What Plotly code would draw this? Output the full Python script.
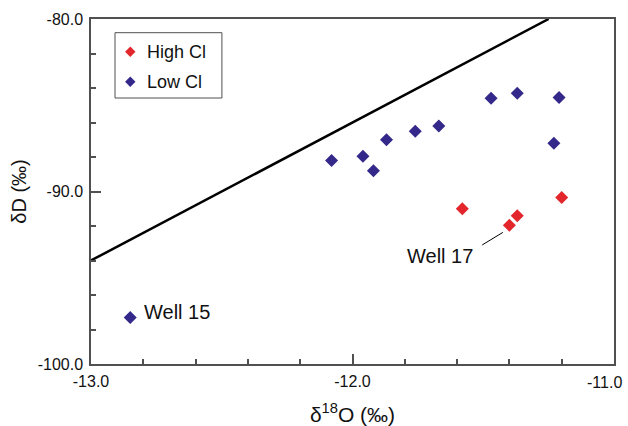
import plotly.graph_objects as go

# Data
high_cl_o18 = [-11.58, -11.37, -11.40, -11.20]
high_cl_dD = [-91.0, -91.4, -91.95, -90.35]

low_cl_o18 = [-12.85, -12.08, -11.96, -11.92, -11.87, -11.76, -11.67, -11.47, -11.37, -11.21, -11.23]
low_cl_dD = [-97.3, -88.2, -87.95, -88.8, -87.0, -86.5, -86.2, -84.6, -84.3, -84.55, -87.2]

gmwl_o18 = [-13.0, -11.25]
gmwl_dD = [-94.0, -80.0]

x_ticks = [-13.0, -12.0, -11.0]
x_ticktext = ["-13.0", "-12.0", ""]
x_last_label = "-11.0"
y_ticks = [-100.0, -90.0, -80.0]
y_ticktext = ["-100.0", "-90.0", "-80.0"]

legend_names = ["High Cl", "Low Cl"]

RED = "#e2262c"
BLUE = "#34298a"
FONT = "Liberation Sans, Arial, sans-serif"
AX = "#505050"
TXT = "#111111"

fig = go.Figure()
fig.add_trace(go.Scatter(x=gmwl_o18, y=gmwl_dD, mode="lines",
                         line=dict(color="black", width=2.5), showlegend=False, hoverinfo="skip"))
fig.add_trace(go.Scatter(x=high_cl_o18, y=high_cl_dD, mode="markers", name=legend_names[0],
                         marker=dict(symbol="diamond", size=10, color=RED), showlegend=False))
fig.add_trace(go.Scatter(x=low_cl_o18, y=low_cl_dD, mode="markers", name=legend_names[1],
                         marker=dict(symbol="diamond", size=10, color=BLUE), showlegend=False))

# Manual legend on an overlay axis spanning the plot area
leg_x = [0.0751, 0.0751]
leg_y = [0.905, 0.818]
fig.add_trace(go.Scatter(x=leg_x, y=leg_y, mode="markers", xaxis="x2", yaxis="y2",
                         marker=dict(symbol="diamond", size=8, color=[RED, BLUE]),
                         showlegend=False, hoverinfo="skip"))
fig.add_shape(type="rect", xref="paper", yref="paper", x0=0.0459, x1=0.2503, y0=0.771, y1=0.9603,
              line=dict(color=AX, width=1), fillcolor="rgba(0,0,0,0)")
for name, yy in zip(legend_names, leg_y):
    fig.add_annotation(x=0.1024, y=yy, xref="paper", yref="paper", text=name, showarrow=False,
                       xanchor="left", yanchor="middle", font=dict(size=18, color=TXT))

fig.add_annotation(x=-12.805, y=-96.97, xref="x", yref="y", text="Well 15", showarrow=False,
                   xanchor="left", yanchor="middle", font=dict(size=20, color=TXT))
fig.add_annotation(x=-11.667, y=-93.74, xref="x", yref="y", text="Well 17", showarrow=False,
                   xanchor="center", yanchor="middle", font=dict(size=20, color=TXT))
fig.add_shape(type="line", xref="x", yref="y", x0=-11.504, y0=-93.10, x1=-11.425, y1=-92.37,
              line=dict(color="black", width=1))

# Last x tick label, nudged left so it stays inside the page (as in the reference)
fig.add_annotation(x=x_ticks[-1], y=0, xref="x", yref="paper", text=x_last_label, showarrow=False,
                   xanchor="right", yanchor="top", xshift=10, yshift=-8,
                   font=dict(size=16, color=TXT))

xaxis = dict(range=[-13.0, -11.0], tickvals=x_ticks, ticktext=x_ticktext,
             ticks="inside", ticklen=10, tickwidth=1.5, tickcolor=AX,
             showline=True, linecolor=AX, linewidth=1.5, mirror=True,
             showgrid=False, zeroline=False, automargin=False, ticklabelstandoff=2,
             minor=dict(ticks="inside", ticklen=5, tickwidth=1.5, tickcolor=AX, dtick=0.2, showgrid=False),
             tickfont=dict(size=16, color=TXT),
             title=dict(text="δ<sup>18</sup>O (‰)", font=dict(size=21, color=TXT), standoff=18))
yaxis = dict(range=[-100.0, -80.0], tickvals=y_ticks, ticktext=y_ticktext,
             ticks="inside", ticklen=10, tickwidth=1.5, tickcolor=AX,
             showline=True, linecolor=AX, linewidth=1.5, mirror=True,
             showgrid=False, zeroline=False, ticklabelstandoff=3, automargin=False,
             minor=dict(ticks="inside", ticklen=5, tickwidth=1.5, tickcolor=AX, dtick=2, showgrid=False),
             tickfont=dict(size=16, color=TXT),
             title=dict(text="δD (‰)", font=dict(size=20, color=TXT), standoff=6))

fig.update_layout(width=628, height=426, margin=dict(l=91, r=14, t=19, b=62),
                  plot_bgcolor="white", paper_bgcolor="white",
                  font=dict(family=FONT, color=TXT),
                  showlegend=False,
                  xaxis=xaxis, yaxis=yaxis,
                  xaxis2=dict(range=[0, 1], overlaying="x", anchor="y2", visible=False, fixedrange=True, automargin=False),
                  yaxis2=dict(range=[0, 1], overlaying="y", anchor="x2", visible=False, fixedrange=True, automargin=False))

fig.write_html("out.html")
